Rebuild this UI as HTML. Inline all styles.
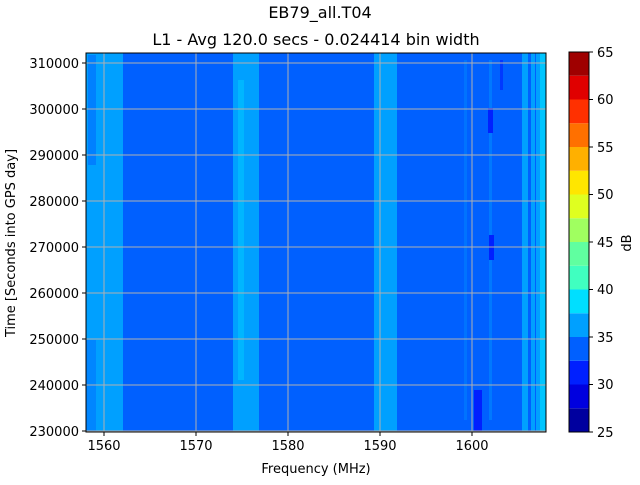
<!DOCTYPE html>
<html><head><style>
body{margin:0;background:#fff;}
svg text{font-family:"DejaVu Sans","Liberation Sans",sans-serif;fill:#000;}
</style></head><body>
<svg width="640" height="480" viewBox="0 0 640 480" xmlns="http://www.w3.org/2000/svg">
<rect width="640" height="480" fill="#fff"/>
<text x="320" y="18" font-size="16" text-anchor="middle">EB79_all.T04</text>
<text x="316" y="45" font-size="16" text-anchor="middle">L1 - Avg 120.0 secs - 0.024414 bin width</text>
<!-- plot -->
<rect x="86" y="53" width="460" height="379" fill="#0060ff"/>
<rect x="86" y="53" width="37" height="379" fill="#00a0ff"/>
<rect x="88" y="55" width="8" height="110" fill="#0060ff" opacity="0.5"/>
<rect x="86" y="340" width="10" height="92" fill="#0060ff" opacity="0.4"/>
<rect x="233" y="53" width="26" height="379" fill="#00a0ff"/>
<rect x="238" y="80" width="6" height="300" fill="#00dfff" opacity="0.35"/>
<rect x="374" y="53" width="23" height="379" fill="#00a0ff"/>
<rect x="378" y="53" width="8" height="379" fill="#00a0ff"/>
<rect x="464" y="60" width="3" height="360" fill="#00a0ff" opacity="0.3"/>
<rect x="489" y="60" width="3" height="360" fill="#00a0ff" opacity="0.4"/>
<rect x="522" y="53" width="6" height="379" fill="#00a0ff"/>
<rect x="531" y="53" width="4" height="379" fill="#00a0ff"/>
<rect x="536" y="53" width="4" height="379" fill="#00a0ff"/>
<rect x="540" y="53" width="6" height="379" fill="#00dfff" opacity="0.8"/>
<rect x="474" y="390" width="8" height="42" fill="#0020ff"/>
<rect x="488" y="108" width="5" height="25" fill="#0020ff"/>
<rect x="489" y="235" width="5" height="25" fill="#0020ff"/>
<rect x="490" y="238" width="4" height="12" fill="#0020ff"/>
<rect x="500" y="60" width="3" height="30" fill="#0020ff" opacity="0.6"/>
<g stroke="#b0b0b0" stroke-width="1">
<line x1="104" y1="53" x2="104" y2="432"/><line x1="196" y1="53" x2="196" y2="432"/>
<line x1="288" y1="53" x2="288" y2="432"/><line x1="380" y1="53" x2="380" y2="432"/>
<line x1="472" y1="53" x2="472" y2="432"/>
<line x1="86" y1="63" x2="546" y2="63"/><line x1="86" y1="109" x2="546" y2="109"/>
<line x1="86" y1="155" x2="546" y2="155"/><line x1="86" y1="201" x2="546" y2="201"/>
<line x1="86" y1="247" x2="546" y2="247"/><line x1="86" y1="293" x2="546" y2="293"/>
<line x1="86" y1="339" x2="546" y2="339"/><line x1="86" y1="385" x2="546" y2="385"/>
<line x1="86" y1="431" x2="546" y2="431"/>
</g>
<rect x="86" y="53" width="460" height="379" fill="none" stroke="#000" stroke-width="1"/>
<g stroke="#000" stroke-width="1">
<line x1="104" y1="432" x2="104" y2="436"/><line x1="196" y1="432" x2="196" y2="436"/>
<line x1="288" y1="432" x2="288" y2="436"/><line x1="380" y1="432" x2="380" y2="436"/>
<line x1="472" y1="432" x2="472" y2="436"/>
<line x1="82" y1="63" x2="86" y2="63"/><line x1="82" y1="109" x2="86" y2="109"/>
<line x1="82" y1="155" x2="86" y2="155"/><line x1="82" y1="201" x2="86" y2="201"/>
<line x1="82" y1="247" x2="86" y2="247"/><line x1="82" y1="293" x2="86" y2="293"/>
<line x1="82" y1="339" x2="86" y2="339"/><line x1="82" y1="385" x2="86" y2="385"/>
<line x1="82" y1="431" x2="86" y2="431"/>
</g>
<g font-size="13" text-anchor="middle">
<text x="104" y="450">1560</text><text x="196" y="450">1570</text><text x="288" y="450">1580</text>
<text x="380" y="450">1590</text><text x="472" y="450">1600</text>
<text x="316" y="473">Frequency (MHz)</text>
</g>
<g font-size="13" text-anchor="end">
<text x="79" y="68">310000</text><text x="79" y="114">300000</text><text x="79" y="160">290000</text>
<text x="79" y="206">280000</text><text x="79" y="252">270000</text><text x="79" y="298">260000</text>
<text x="79" y="344">250000</text><text x="79" y="390">240000</text><text x="79" y="436">230000</text>
</g>
<text transform="translate(15,243) rotate(-90)" font-size="13" text-anchor="middle">Time [Seconds into GPS day]</text>
<!-- colorbar -->
<g>
<rect x="569" y="408.25" width="20" height="23.75" fill="#00009f"/>
<rect x="569" y="384.5" width="20" height="23.75" fill="#0000df"/>
<rect x="569" y="360.75" width="20" height="23.75" fill="#0020ff"/>
<rect x="569" y="337" width="20" height="23.75" fill="#0060ff"/>
<rect x="569" y="313.25" width="20" height="23.75" fill="#00a0ff"/>
<rect x="569" y="289.5" width="20" height="23.75" fill="#00dfff"/>
<rect x="569" y="265.75" width="20" height="23.75" fill="#40ffc0"/>
<rect x="569" y="242" width="20" height="23.75" fill="#60ffa0"/>
<rect x="569" y="218.25" width="20" height="23.75" fill="#a0ff60"/>
<rect x="569" y="194.5" width="20" height="23.75" fill="#dfff20"/>
<rect x="569" y="170.75" width="20" height="23.75" fill="#ffe600"/>
<rect x="569" y="147" width="20" height="23.75" fill="#ffb000"/>
<rect x="569" y="123.25" width="20" height="23.75" fill="#ff7000"/>
<rect x="569" y="99.5" width="20" height="23.75" fill="#ff3000"/>
<rect x="569" y="75.75" width="20" height="23.75" fill="#e00000"/>
<rect x="569" y="52" width="20" height="23.75" fill="#9f0000"/>
</g>
<rect x="569" y="52" width="20" height="380" fill="none" stroke="#000" stroke-width="1"/>
<g stroke="#000">
<line x1="589" y1="432" x2="593" y2="432"/><line x1="589" y1="384.5" x2="593" y2="384.5"/>
<line x1="589" y1="337" x2="593" y2="337"/><line x1="589" y1="289.5" x2="593" y2="289.5"/>
<line x1="589" y1="242" x2="593" y2="242"/><line x1="589" y1="194.5" x2="593" y2="194.5"/>
<line x1="589" y1="147" x2="593" y2="147"/><line x1="589" y1="99.5" x2="593" y2="99.5"/>
<line x1="589" y1="52" x2="593" y2="52"/>
</g>
<g font-size="13">
<text x="597" y="437">25</text><text x="597" y="389">30</text><text x="597" y="342">35</text>
<text x="597" y="294">40</text><text x="597" y="247">45</text><text x="597" y="199">50</text>
<text x="597" y="152">55</text><text x="597" y="104">60</text><text x="597" y="57">65</text>
</g>
<text transform="translate(631,243) rotate(-90)" font-size="13" text-anchor="middle">dB</text>
</svg>
</body></html>
